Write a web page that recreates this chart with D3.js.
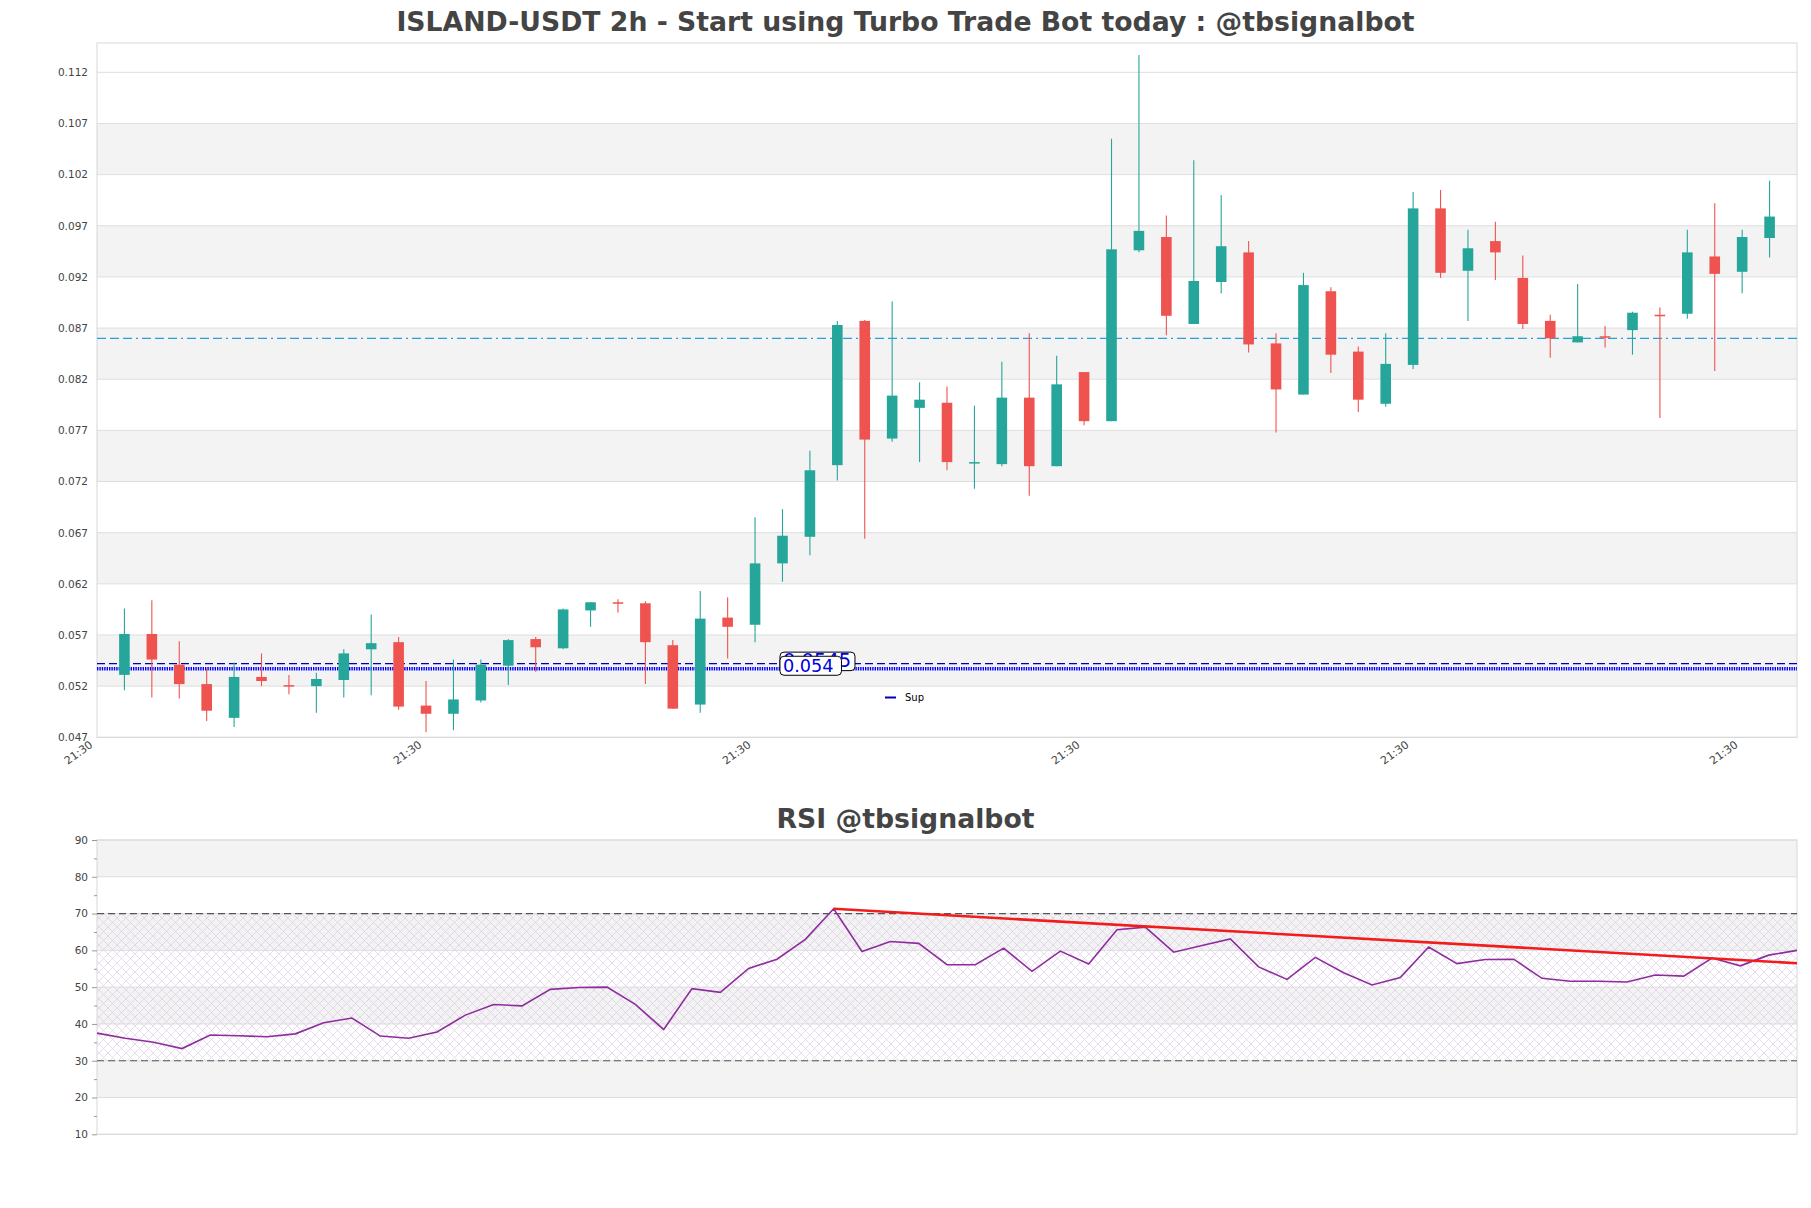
<!DOCTYPE html>
<html>
<head>
<meta charset="utf-8">
<script src="https://cdn.jsdelivr.net/npm/d3@7"></script>
<style>
  html, body { margin: 0; padding: 0; background: #fff; }
  svg { display: block; font-family: "DejaVu Sans", sans-serif; }
</style>
</head>
<body>
<svg id="chart" width="1811" height="1208"></svg>
<script>
// ---------------- DATA ----------------
const candleIndex = d3.range(61);
const opens  = [0.0531,0.0571,0.0541,0.0522,0.0489,0.0529,0.0521,0.0520,0.0526,0.0556,
                0.0563,0.0501,0.0493,0.0506,0.0540,0.0566,0.0557,0.0594,0.0602,0.0601,
                0.0560,0.0502,0.0587,0.0580,0.0640,0.0666,0.0736,0.0877,0.0762,0.0792,
                0.0797,0.0738,0.0737,0.0802,0.0735,0.0827,0.0779,0.0946,0.0959,0.0874,
                0.0915,0.0944,0.0855,0.0805,0.0906,0.0847,0.0796,0.0834,0.0987,0.0926,
                0.0955,0.0919,0.0877,0.0856,0.0862,0.0868,0.0883,0.0884,0.0940,0.0925,
                0.0958];
const highs  = [0.0596,0.0604,0.0564,0.0537,0.0543,0.0552,0.0531,0.0533,0.0556,0.0590,
                0.0568,0.0525,0.0546,0.0546,0.0566,0.0568,0.0596,0.0602,0.0605,0.0603,
                0.0565,0.0613,0.0607,0.0685,0.0693,0.0750,0.0877,0.0878,0.0896,0.0817,
                0.0813,0.0794,0.0837,0.0865,0.0843,0.0827,0.1055,0.1137,0.0980,0.1034,
                0.1000,0.0955,0.0865,0.0924,0.0910,0.0852,0.0865,0.1003,0.1005,0.0966,
                0.0974,0.0941,0.0883,0.0913,0.0872,0.0886,0.0890,0.0966,0.0992,0.0966,
                0.1014];
const lows   = [0.0516,0.0509,0.0508,0.0486,0.0480,0.0520,0.0512,0.0494,0.0509,0.0511,
                0.0497,0.0475,0.0477,0.0504,0.0521,0.0534,0.0556,0.0578,0.0592,0.0522,
                0.0498,0.0494,0.0547,0.0563,0.0622,0.0648,0.0721,0.0664,0.0759,0.0739,
                0.0731,0.0713,0.0735,0.0706,0.0735,0.0775,0.0779,0.0944,0.0863,0.0874,
                0.0904,0.0846,0.0768,0.0805,0.0826,0.0788,0.0793,0.0830,0.0919,0.0877,
                0.0917,0.0869,0.0841,0.0856,0.0851,0.0844,0.0782,0.0879,0.0828,0.0904,
                0.0939];
const closes = [0.0571,0.0546,0.0522,0.0496,0.0529,0.0525,0.0520,0.0527,0.0552,0.0562,
                0.0500,0.0493,0.0507,0.0541,0.0565,0.0558,0.0595,0.0602,0.0601,0.0563,
                0.0498,0.0586,0.0578,0.0640,0.0667,0.0731,0.0873,0.0761,0.0804,0.0800,
                0.0739,0.0739,0.0802,0.0735,0.0815,0.0779,0.0947,0.0965,0.0882,0.0916,
                0.0950,0.0854,0.0810,0.0912,0.0844,0.0800,0.0835,0.0987,0.0924,0.0948,
                0.0944,0.0874,0.0860,0.0862,0.0861,0.0885,0.0882,0.0944,0.0923,0.0959,
                0.0979];
const rsiValues = [37.5,36.1,35.0,33.3,37.0,36.8,36.5,37.3,40.3,41.6,
                   36.7,36.1,37.8,42.4,45.3,44.9,49.4,49.9,50.0,45.3,
                   38.5,49.6,48.6,55.1,57.6,63.0,71.3,59.7,62.4,61.9,
                   56.1,56.1,60.6,54.3,59.8,56.3,65.6,66.3,59.5,61.3,
                   63.1,55.5,52.1,58.1,53.9,50.6,52.6,60.9,56.4,57.5,
                   57.6,52.4,51.6,51.6,51.4,53.3,53.0,57.9,55.8,58.7,
                   60.0];
const priceTicks = [0.047,0.052,0.057,0.062,0.067,0.072,0.077,0.082,0.087,0.092,0.097,0.102,0.107,0.112];
const priceBands = [[0.052,0.057],[0.062,0.067],[0.072,0.077],[0.082,0.087],[0.092,0.097],[0.102,0.107]];
const xTickIndex = [-1,11,23,35,47,59];
const xTickLabels = ["21:30","21:30","21:30","21:30","21:30","21:30"];
const rsiTicks = [10,20,30,40,50,60,70,80,90];
const rsiMinorTicks = [15,25,35,45,55,65,75,85];
const rsiBands = [[20,30],[40,50],[60,70],[80,90]];
const resistanceLevel = 0.0860;
const supportDashed = 0.0542;
const supportDotted = 0.0537;
const supportLabels = ["0.0545","0.054"];
const rsiTrend = [[26,71.3],[60,56.5]];
const titleMain = "ISLAND-USDT 2h - Start using Turbo Trade Bot today : @tbsignalbot";
const titleRsi = "RSI @tbsignalbot";

// ---------------- LAYOUT ----------------
const svg = d3.select("#chart");
const W = 1811;
const main = {left: 97, right: 1797, top: 43, bottom: 737.3};
const rsiBox = {left: 97, right: 1797, top: 840, bottom: 1134.3};
const green = "#26a69a", red = "#ef5350";
const textColor = "#444";

const x = d3.scaleLinear().domain([-1, 61]).range([main.left, main.right]);
const y = d3.scaleLinear().domain([0.047, 0.114864]).range([main.bottom, main.top]);

// title
svg.append("text").attr("x", W/2).attr("y", 31).attr("text-anchor","middle")
  .attr("font-size", 26.7).attr("font-weight","bold").attr("fill", textColor).text(titleMain);

// bands
const gMain = svg.append("g");
gMain.selectAll("rect.band").data(priceBands).join("rect")
  .attr("x", main.left).attr("width", main.right - main.left)
  .attr("y", d => y(d[1])).attr("height", d => y(d[0]) - y(d[1]))
  .attr("fill", "#f3f3f3");
// grid
gMain.selectAll("line.grid").data(priceTicks).join("line")
  .attr("x1", main.left).attr("x2", main.right)
  .attr("y1", d => y(d)).attr("y2", d => y(d))
  .attr("stroke", "#dedede").attr("stroke-width", 1);
// frame
gMain.append("rect").attr("x", main.left).attr("y", main.top)
  .attr("width", main.right - main.left).attr("height", main.bottom - main.top)
  .attr("fill","none").attr("stroke","#d8d8d8").attr("stroke-width",1);

// y axis labels
const yAxis = d3.axisLeft(y).tickValues(priceTicks).tickFormat(d3.format(".3f")).tickSize(0).tickPadding(9);
const yAxG = svg.append("g").attr("transform", `translate(${main.left},0)`).call(yAxis);
yAxG.select(".domain").remove();
yAxG.selectAll("text").attr("font-size", 10.5).attr("fill", textColor).attr("font-family","DejaVu Sans");

// x axis labels
const xAxis = d3.axisBottom(x).tickValues(xTickIndex).tickFormat((d,i) => xTickLabels[i]).tickSize(0).tickPadding(0);
const xAxG = svg.append("g").attr("transform", `translate(0,${main.bottom})`).call(xAxis);
xAxG.select(".domain").remove();
xAxG.selectAll("text").attr("font-size", 11).attr("fill", textColor).attr("font-family","DejaVu Sans")
  .attr("text-anchor","end").attr("dy", null).attr("y", 0)
  .attr("transform", "translate(-4,9) rotate(-36)");

// horizontal levels
svg.append("line").attr("x1", main.left).attr("x2", main.right)
  .attr("y1", y(resistanceLevel)).attr("y2", y(resistanceLevel))
  .attr("stroke", "#2a9fd8").attr("stroke-width", 1.2).attr("stroke-dasharray", "9,4,9,4,9,4,2,4");
svg.append("line").attr("x1", main.left).attr("x2", main.right)
  .attr("y1", y(supportDashed)).attr("y2", y(supportDashed))
  .attr("stroke", "#0000b0").attr("stroke-width", 1.3).attr("stroke-dasharray", "8,4");
svg.append("line").attr("x1", main.left).attr("x2", main.right)
  .attr("y1", y(supportDotted)).attr("y2", y(supportDotted))
  .attr("stroke", "#0000ff").attr("stroke-width", 3.4).attr("stroke-dasharray", "1.4,1");

// candles
const bw = 10.6;
const gC = svg.append("g");
gC.selectAll("line.wick").data(candleIndex).join("line")
  .attr("x1", i => x(i)).attr("x2", i => x(i))
  .attr("y1", i => y(highs[i])).attr("y2", i => y(lows[i]))
  .attr("stroke", i => closes[i] >= opens[i] ? green : red).attr("stroke-width", 1.1);
gC.selectAll("rect.body").data(candleIndex).join("rect")
  .attr("x", i => x(i) - bw/2).attr("width", bw)
  .attr("y", i => y(Math.max(opens[i], closes[i])))
  .attr("height", i => Math.max(1.5, Math.abs(y(opens[i]) - y(closes[i]))))
  .attr("fill", i => closes[i] >= opens[i] ? green : red);

// support labels
const lblX = x(24) - 2.5;
const back = svg.append("g");
back.append("rect").attr("x", lblX).attr("y", y(supportDashed) - 11.5).attr("width", 75).attr("height", 18.5)
  .attr("rx", 4).attr("fill","#fff").attr("stroke","#000").attr("stroke-width",1);
back.append("text").attr("x", lblX + 3).attr("y", y(supportDashed) + 3.5)
  .attr("font-size", 19.5).attr("fill","#0000e0").text(supportLabels[0]);
const front = svg.append("g");
front.append("rect").attr("x", lblX).attr("y", y(supportDotted) - 12.5).attr("width", 61.5).attr("height", 19)
  .attr("rx", 4).attr("fill","#fff").attr("stroke","#000").attr("stroke-width",1);
front.append("text").attr("x", lblX + 3).attr("y", y(supportDotted) + 3.5)
  .attr("font-size", 17.7).attr("fill","#0000e0").text(supportLabels[1]);

// legend
svg.append("line").attr("x1", 885).attr("x2", 896).attr("y1", 697.5).attr("y2", 697.5)
  .attr("stroke", "#0000b0").attr("stroke-width", 2);
svg.append("text").attr("x", 905).attr("y", 701).attr("font-size", 10).attr("fill","#000").text("Sup");

// ---------------- RSI ----------------
svg.append("text").attr("x", W/2).attr("y", 828).attr("text-anchor","middle")
  .attr("font-size", 26.7).attr("font-weight","bold").attr("fill", textColor).text(titleRsi);

const xr = d3.scaleLinear().domain([0, 60]).range([rsiBox.left, rsiBox.right]);
const yr = d3.scaleLinear().domain([10, 90]).range([rsiBox.bottom, rsiBox.top]);

const defs = svg.append("defs");
const pat = defs.append("pattern").attr("id","hatch").attr("patternUnits","userSpaceOnUse")
  .attr("width", 9).attr("height", 9);
pat.append("path").attr("d","M0,0 L9,9 M9,0 L0,9 M-1,8 L1,10 M8,-1 L10,1 M-1,1 L1,-1 M8,10 L10,8")
  .attr("stroke","#d9c6e2").attr("stroke-width",0.7).attr("fill","none");

const gR = svg.append("g");
gR.selectAll("rect.band").data(rsiBands).join("rect")
  .attr("x", rsiBox.left).attr("width", rsiBox.right - rsiBox.left)
  .attr("y", d => yr(d[1])).attr("height", d => yr(d[0]) - yr(d[1]))
  .attr("fill", "#f3f3f3");
gR.selectAll("line.grid").data(rsiTicks).join("line")
  .attr("x1", rsiBox.left).attr("x2", rsiBox.right)
  .attr("y1", d => yr(d)).attr("y2", d => yr(d))
  .attr("stroke", "#dedede").attr("stroke-width", 1);
gR.append("rect").attr("x", rsiBox.left).attr("width", rsiBox.right - rsiBox.left)
  .attr("y", yr(70)).attr("height", yr(30) - yr(70)).attr("fill","url(#hatch)").attr("opacity",0.85);
gR.append("rect").attr("x", rsiBox.left).attr("y", rsiBox.top)
  .attr("width", rsiBox.right - rsiBox.left).attr("height", rsiBox.bottom - rsiBox.top)
  .attr("fill","none").attr("stroke","#d8d8d8").attr("stroke-width",1);
[70, 30].forEach(v => {
  gR.append("line").attr("x1", rsiBox.left).attr("x2", rsiBox.right)
    .attr("y1", yr(v)).attr("y2", yr(v))
    .attr("stroke", "#555").attr("stroke-width", 1.2).attr("stroke-dasharray", "7,4");
});

const yrAxis = d3.axisLeft(yr).tickValues(rsiTicks).tickSize(5).tickPadding(4);
const yrG = svg.append("g").attr("transform", `translate(${rsiBox.left},0)`).call(yrAxis);
yrG.select(".domain").remove();
yrG.selectAll("line").attr("stroke","#999");
yrG.selectAll("text").attr("font-size", 10.5).attr("fill", textColor).attr("font-family","DejaVu Sans");
const yrMinor = d3.axisLeft(yr).tickValues(rsiMinorTicks).tickSize(3).tickFormat("");
const yrMG = svg.append("g").attr("transform", `translate(${rsiBox.left},0)`).call(yrMinor);
yrMG.select(".domain").remove();
yrMG.selectAll("line").attr("stroke","#999");

const line = d3.line().x((d,i) => xr(i)).y(d => yr(d));
gR.append("path").datum(rsiValues).attr("d", line)
  .attr("fill","none").attr("stroke","#8e2c9e").attr("stroke-width",1.6);
gR.append("line")
  .attr("x1", xr(rsiTrend[0][0])).attr("y1", yr(rsiTrend[0][1]))
  .attr("x2", xr(rsiTrend[1][0])).attr("y2", yr(rsiTrend[1][1]))
  .attr("stroke","#f21c1c").attr("stroke-width",2.6);
</script>
</body>
</html>
